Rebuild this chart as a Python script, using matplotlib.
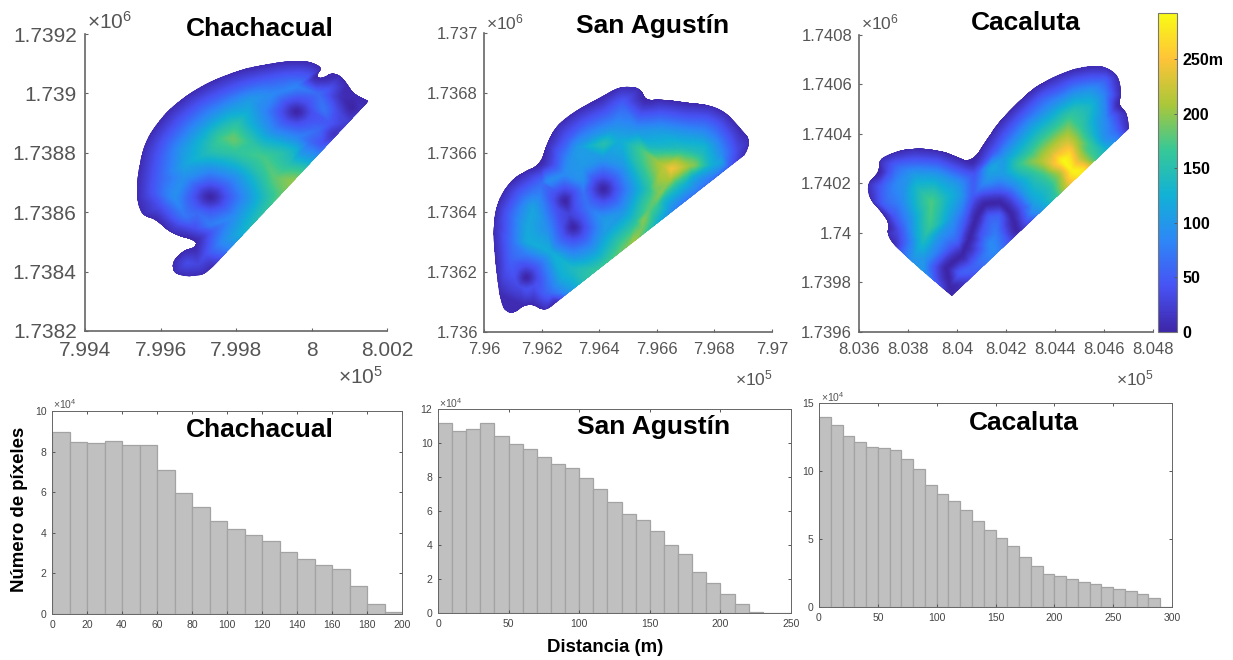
import numpy as np
import matplotlib
matplotlib.use('Agg')
import matplotlib.pyplot as plt
from matplotlib.colors import LinearSegmentedColormap
from matplotlib.patches import PathPatch
from matplotlib.path import Path
from matplotlib.tri import Triangulation, CubicTriInterpolator, LinearTriInterpolator

plt.rcParams['font.family'] = ['Liberation Sans', 'DejaVu Sans']
plt.rcParams['mathtext.default'] = 'regular'

W, H = 1233, 660

# histogram counts per 10 m bin, in units of 1e4 pixels
cha_counts = [8.95, 8.45, 8.4, 8.5, 8.32, 8.33, 7.1, 5.95, 5.25, 4.6, 4.2, 3.9, 3.6, 3.07, 2.7, 2.4, 2.2, 1.4, 0.5, 0.08]
san_counts = [11.2, 10.7, 10.8, 11.15, 10.4, 9.95, 9.65, 9.15, 8.75, 8.55, 7.95, 7.3, 6.55, 5.8, 5.45, 4.85, 4.0, 3.45,
              2.4, 1.75, 1.1, 0.55, 0.05, 0.02, 0.01]
cac_counts = [14.0, 13.35, 12.6, 12.15, 11.8, 11.7, 11.55, 10.85, 10.15, 9.0, 8.3, 7.8, 7.15, 6.3, 5.65, 5.05, 4.45, 3.7,
              3.05, 2.4, 2.25, 2.05, 1.85, 1.7, 1.5, 1.35, 1.15, 0.95, 0.65, 0.03]

# map outlines, metres east / north of the lower left axes corner
cha_outline = [(751, 773), (716, 790), (694, 830), (676, 863), (650, 869), (636, 852), (610, 855), (630, 886), (597, 908),
               (535, 910), (473, 897), (411, 880), (340, 846), (270, 796), (217, 740), (172, 666), (150, 604), (139, 520),
               (137, 442), (150, 391), (186, 380), (225, 329), (296, 307), (292, 279), (261, 273), (230, 234), (234, 194),
               (270, 183), (314, 189), (340, 217)]
san_outline = [(905, 592), (931, 640), (890, 681), (844, 732), (786, 760), (705, 767), (612, 780), (560, 773), (542, 819),
               (473, 823), (403, 782), (322, 743), (253, 693), (218, 631), (200, 564), (137, 536), (79, 491), (44, 430),
               (30, 352), (38, 240), (53, 128), (67, 78), (96, 59), (137, 89), (172, 93), (212, 69), (253, 100)]
cac_outline = [(1102, 822), (1098, 883), (1057, 917), (1071, 964), (1057, 1038), (1010, 1072), (949, 1076), (874, 1062),
               (792, 1031), (711, 984), (629, 910), (561, 836), (514, 768), (463, 685), (398, 708), (317, 737), (223, 744),
               (141, 728), (80, 697), (87, 647), (31, 600), (45, 532), (99, 479), (126, 425), (113, 398), (140, 350), (378, 144)]

# distance samples: east, north, metres to nearest feature
cha_samples = [
    (390, 285, 90), (440, 352, 140), (490, 420, 165), (530, 474, 190), (555, 507, 200), (580, 541, 165), (610, 582, 105),
    (640, 622, 60), (665, 656, 25), (700, 704, 25), (730, 745, 12),
    (332, 453, 0), (382, 453, 50), (367, 488, 50), (332, 503, 50), (297, 488, 50), (282, 453, 50), (297, 418, 50),
    (332, 403, 50), (367, 418, 50), (427, 453, 95), (399, 520, 95), (332, 548, 95), (265, 520, 95), (237, 453, 92),
    (265, 386, 70), (332, 358, 75), (399, 386, 95), (482, 453, 150), (438, 559, 150), (332, 603, 148), (261, 559, 110),
    (561, 740, 0), (601, 740, 40), (589, 768, 40), (561, 780, 40), (533, 768, 40), (521, 740, 40), (533, 712, 40),
    (561, 700, 40), (589, 712, 40), (634, 745, 70), (621, 800, 62), (561, 825, 82), (501, 800, 85), (476, 740, 85),
    (501, 680, 85), (561, 655, 85), (621, 680, 60), (431, 740, 120), (470, 648, 130), (561, 610, 125),
    (659, 661, 15), (630, 630, 45), (707, 751, 0), (670, 740, 35), (680, 790, 10), (650, 820, 40), (690, 700, 25),
    (650, 700, 45), (600, 640, 60), (570, 600, 105), (540, 560, 155), (500, 520, 180), (470, 520, 155), (400, 600, 160),
    (360, 650, 170), (300, 640, 125), (402, 698, 155), (380, 720, 130), (440, 700, 125), (393, 650, 185), (331, 633, 150),
    (446, 633, 157), (473, 588, 172), (189, 520, 50), (198, 589, 50), (214, 641, 50), (257, 710, 50), (305, 761, 50),
    (365, 801, 50), (426, 832, 50), (483, 848, 50), (535, 860, 50), (592, 858, 45), (246, 575, 95), (257, 616, 100),
    (297, 680, 100), (340, 726, 100), (390, 760, 100), (440, 785, 100), (270, 230, 35), (300, 225, 30), (320, 260, 40),
    (360, 300, 85), (290, 345, 38), (240, 350, 25), (340, 340, 55), (300, 400, 62), (200, 420, 40), (180, 470, 45)]
cha_cut = [(751, 773, 5), (340, 217, 8)]

san_samples = [
    (300, 135, 100), (350, 173, 150), (400, 211, 165), (450, 249, 175), (500, 286, 195), (519, 301, 205), (554, 327, 175),
    (606, 367, 125), (658, 406, 85), (705, 441, 70), (751, 476, 70), (809, 520, 65), (855, 555, 50),
    (652, 547, 245), (716, 558, 200), (763, 598, 140), (595, 486, 190), (577, 419, 180), (554, 374, 195), (612, 464, 195),
    (647, 508, 205), (670, 491, 150), (624, 441, 140), (600, 419, 165), (695, 494, 130), (728, 519, 120), (730, 558, 195),
    (768, 620, 130), (473, 642, 120), (577, 620, 140), (693, 620, 140), (620, 560, 215), (640, 500, 200),
    (415, 480, 0), (465, 480, 50), (450, 515, 50), (415, 530, 50), (380, 515, 50), (365, 480, 50), (380, 445, 50),
    (415, 430, 50), (450, 445, 50), (515, 480, 100), (486, 551, 100), (415, 580, 100), (344, 551, 100), (486, 409, 100),
    (415, 380, 100), (348, 460, 67), (363, 416, 70), (565, 480, 150), (521, 586, 150), (415, 630, 150), (521, 374, 150),
    (415, 330, 106), (605, 480, 190), (549, 614, 170), (549, 346, 190),
    (282, 441, 0), (282, 481, 40), (242, 441, 40), (254, 469, 40), (310, 469, 40), (254, 413, 40), (310, 413, 35),
    (296, 396, 28),
    (311, 352, 0), (351, 352, 40), (311, 312, 40), (271, 352, 40), (283, 324, 40), (339, 324, 40), (339, 380, 40),
    (401, 352, 90), (311, 262, 90), (221, 352, 90), (375, 288, 90), (247, 288, 90), (192, 441, 90), (218, 505, 88),
    (282, 531, 90), (346, 505, 90), (311, 212, 140), (410, 253, 140), (282, 581, 80), (240, 560, 40), (170, 420, 110),
    (148, 352, 115), (100, 352, 70), (65, 352, 35),
    (148, 184, 0), (188, 184, 40), (148, 224, 40), (108, 184, 40), (148, 144, 40), (176, 212, 40), (120, 212, 40),
    (120, 156, 35), (176, 156, 40), (228, 184, 80), (148, 264, 80), (68, 184, 30), (205, 240, 80), (91, 240, 53),
    (205, 130, 50), (268, 184, 120), (148, 304, 118), (233, 269, 120), (230, 130, 60), (100, 300, 70), (80, 400, 47),
    (120, 470, 46), (170, 480, 65), (200, 500, 64),
    (290, 650, 50), (350, 700, 50), (425, 735, 50), (480, 770, 50), (545, 730, 45), (612, 730, 50), (705, 717, 50),
    (775, 712, 50), (815, 690, 50), (850, 645, 50), (320, 620, 99), (385, 660, 100), (450, 680, 100), (530, 680, 95),
    (612, 680, 100), (705, 667, 100), (760, 665, 95), (800, 630, 100), (830, 600, 85), (880, 610, 35), (825, 570, 110),
    (790, 560, 125), (300, 580, 96)]
san_cut = [(905, 592, 10), (253, 100, 8)]

cac_samples = [
    (440, 202, 20), (481, 240, 50), (563, 317, 85), (617, 368, 40), (658, 406, 8), (699, 444, 40), (751, 493, 105),
    (806, 545, 160), (847, 583, 220), (901, 633, 280), (928, 659, 270), (969, 697, 170), (1010, 736, 130), (1057, 780, 80),
    (181, 314, 65), (220, 281, 95), (262, 244, 100), (300, 211, 70), (330, 185, 40), (358, 162, 12),
    (371, 182, 2), (364, 222, 0), (357, 263, 0), (388, 287, 0), (419, 310, 0), (436, 347, 0), (453, 384, 0), (466, 425, 0),
    (480, 465, 0), (497, 492, 0), (514, 519, 0), (545, 523, 0), (575, 526, 0), (600, 505, 0), (622, 479, 0), (633, 445, 0),
    (643, 411, 0),
    (296, 526, 175), (235, 586, 135), (357, 546, 135), (289, 425, 165), (262, 371, 140), (222, 303, 100), (181, 586, 95),
    (412, 586, 100), (520, 613, 95), (588, 640, 105), (534, 667, 110),
    (223, 694, 50), (145, 680, 50), (320, 690, 48), (398, 660, 48), (470, 640, 45), (125, 650, 45), (90, 590, 50),
    (95, 520, 50), (145, 465, 45), (165, 410, 40), (223, 644, 100), (320, 640, 100), (400, 610, 95), (150, 600, 85),
    (170, 530, 85), (195, 445, 80), (200, 370, 70),
    (310, 215, 50), (300, 265, 55), (410, 240, 50), (380, 350, 50), (465, 270, 55), (405, 365, 50), (500, 400, 45),
    (430, 445, 50), (530, 470, 50), (465, 550, 50), (575, 580, 55), (575, 475, 50), (665, 510, 50),
    (270, 300, 100), (330, 400, 105), (380, 460, 100), (420, 560, 100), (530, 360, 85), (560, 400, 75), (534, 330, 85),
    (575, 630, 100), (640, 600, 100), (710, 530, 110), (700, 480, 80), (680, 445, 40), (690, 510, 70), (740, 530, 120),
    (780, 580, 150), (820, 640, 210), (760, 640, 175),
    (1010, 1022, 50), (949, 1026, 50), (874, 1012, 50), (820, 985, 50), (745, 950, 50), (665, 875, 50), (600, 800, 50),
    (555, 735, 50), (510, 690, 40), (945, 976, 100), (880, 962, 100), (830, 935, 100), (775, 900, 100), (700, 840, 100),
    (640, 770, 100), (590, 710, 100), (880, 900, 150), (860, 880, 160), (790, 840, 150), (730, 790, 150), (680, 730, 150),
    (656, 681, 165), (1050, 880, 40), (1050, 820, 60), (1005, 960, 80), (950, 920, 130), (1010, 860, 85), (980, 850, 105),
    (960, 800, 130), (1000, 780, 100), (950, 760, 160), (905, 830, 165), (880, 770, 215), (850, 770, 230), (860, 720, 270),
    (833, 694, 290), (867, 654, 285), (900, 700, 230), (930, 740, 175), (800, 680, 250), (780, 730, 220), (751, 694, 215),
    (700, 690, 190), (720, 640, 160)]
cac_cut = [(1102, 822, 10), (378, 144, 5)]

# axis ranges and tick labels
cha_x0, cha_y0 = 799400, 1738200
san_x0, san_y0 = 796000, 1736000
cac_x0, cac_y0 = 803600, 1739600
cha_xticks = ['7.994', '7.996', '7.998', '8', '8.002']
cha_yticks = ['1.7382', '1.7384', '1.7386', '1.7388', '1.739', '1.7392']
san_xticks = ['7.96', '7.962', '7.964', '7.966', '7.968', '7.97']
san_yticks = ['1.736', '1.7362', '1.7364', '1.7366', '1.7368', '1.737']
cac_xticks = ['8.036', '8.038', '8.04', '8.042', '8.044', '8.046', '8.048']
cac_yticks = ['1.7396', '1.7398', '1.74', '1.7402', '1.7404', '1.7406', '1.7408']

parula = LinearSegmentedColormap.from_list('parula', [
    (0.2422, 0.1504, 0.6603), (0.2810, 0.3228, 0.9579), (0.1786, 0.5289, 0.9682), (0.0689, 0.6948, 0.8394),
    (0.2161, 0.7843, 0.5923), (0.6720, 0.7793, 0.2227), (0.9970, 0.7659, 0.2199), (0.9769, 0.9839, 0.0805)])
VMAX = 292

fig = plt.figure(figsize=(W / 100, H / 100), dpi=100)


def px_axes(left, top, right, bottom):
    return fig.add_axes([left / W, 1 - bottom / H, (right - left) / W, (bottom - top) / H])


def px_text(x, y, s, **kw):
    kw.setdefault('va', 'center')
    fig.text(x / W, 1 - y / H, s, **kw)


def outline_path(outline, x0, y0):
    # rounded shoreline, straight cut between the last and first vertex
    p = np.array(outline, dtype=float) + [x0, y0]
    verts = [p[0]]
    codes = [Path.MOVETO]
    for i in range(1, len(p) - 1):
        verts += [p[i], (p[i] + p[i + 1]) / 2]
        codes += [Path.CURVE3, Path.CURVE3]
    verts += [p[-1], p[0]]
    codes += [Path.LINETO, Path.CLOSEPOLY]
    return Path(np.array(verts), codes)


def draw_map(box, outline, samples, cut, x0, y0, xspan, yspan, xlabels, ylabels, size, ypad):
    ax = px_axes(*box)
    pts = [(x, y, 6) for x, y in outline[1:-1]] + samples + cut
    arr = np.array(pts, dtype=float)
    tri = Triangulation(x0 + arr[:, 0], y0 + arr[:, 1])
    smooth = CubicTriInterpolator(tri, arr[:, 2], kind='geom')
    sharp = LinearTriInterpolator(tri, arr[:, 2])
    gx, gy = np.meshgrid(np.linspace(x0, x0 + xspan, 500), np.linspace(y0, y0 + yspan, 500))
    # half and half keeps the ridges without the cubic overshoot
    field = np.ma.clip(0.5 * smooth(gx, gy) + 0.5 * sharp(gx, gy), 0, VMAX)
    mesh = ax.pcolormesh(gx, gy, field, shading='gouraud', cmap=parula, vmin=0, vmax=VMAX)
    clip = PathPatch(outline_path(outline, x0, y0), transform=ax.transData, fc='none', ec='none')
    ax.add_patch(clip)
    mesh.set_clip_path(clip)
    ax.set_xlim(x0, x0 + xspan)
    ax.set_ylim(y0, y0 + yspan)
    ax.set_xticks(x0 + np.arange(len(xlabels)) * 200, xlabels)
    ax.set_yticks(y0 + np.arange(len(ylabels)) * 200, ylabels)
    ax.spines[['top', 'right']].set_visible(False)
    ax.spines[['left', 'bottom']].set_color('#666666')
    ax.spines[['left', 'bottom']].set_linewidth(1.2)
    ax.tick_params(axis='x', direction='in', length=2.5, color='#666666', labelcolor='#555555', labelsize=size, pad=7)
    ax.tick_params(axis='y', direction='in', length=2.5, color='#666666', labelcolor='#555555', labelsize=size, pad=ypad)
    return mesh


def draw_hist(box, counts, xmax, xstep, ymax, ystep):
    ax = px_axes(*box)
    edges = np.arange(len(counts)) * 10
    ax.bar(edges, counts, width=10, align='edge', color='#c0c0c0', edgecolor='#a3a3a3', linewidth=0.9)
    ax.set_xlim(0, xmax)
    ax.set_ylim(0, ymax)
    ax.set_xticks(np.arange(0, xmax + 1, xstep))
    ax.set_yticks(np.arange(0, ymax + 1, ystep))
    ax.tick_params(direction='in', top=True, right=True, length=2, width=0.7, color='#555555',
                   labelcolor='#444444', labelsize=7.5, pad=4)
    for s in ax.spines.values():
        s.set_color('#666666')
        s.set_linewidth(0.7)


mesh = draw_map((85, 34, 387, 331), cha_outline, cha_samples, cha_cut, cha_x0, cha_y0, 800, 1000, cha_xticks, cha_yticks, 15, 6)
draw_map((484, 33, 772, 332), san_outline, san_samples, san_cut, san_x0, san_y0, 1000, 1000, san_xticks, san_yticks, 12, 4.5)
draw_map((859, 35, 1153, 332), cac_outline, cac_samples, cac_cut, cac_x0, cac_y0, 1200, 1200, cac_xticks, cac_yticks, 12, 5)

cax = px_axes(1158, 13, 1177, 332)
cbar = fig.colorbar(mesh, cax=cax)
cbar.set_ticks([0, 50, 100, 150, 200, 250], labels=['0', '50', '100', '150', '200', '250m'])
cbar.ax.tick_params(direction='in', length=2, width=0.6, color='#555555', labelsize=11.5, pad=4)
for lab in cbar.ax.get_yticklabels():
    lab.set_fontweight('bold')
cbar.outline.set_edgecolor('#777777')

draw_hist((52, 411, 402, 614), cha_counts, 200, 20, 10, 2)
draw_hist((438, 409, 791, 613), san_counts, 250, 50, 12, 2)
draw_hist((819, 403, 1172, 607), cac_counts, 300, 50, 15, 5)

# titles
title_kw = dict(ha='center', fontsize=19, fontweight='bold', color='black')
px_text(260, 29, 'Chachacual', **title_kw)
px_text(653, 26, 'San Agustín', **title_kw)
px_text(1026, 23, 'Cacaluta', **title_kw)
px_text(260, 430, 'Chachacual', **title_kw)
px_text(654, 427, 'San Agustín', **title_kw)
px_text(1024, 423, 'Cacaluta', **title_kw)

# axis exponents
grey = dict(color='#555555', ha='left')
px_text(87, 22, r'$\times10^{6}$', fontsize=15, **grey)
px_text(486, 22, r'$\times10^{6}$', fontsize=12.5, **grey)
px_text(861, 22, r'$\times10^{6}$', fontsize=12.5, **grey)
px_text(338, 377, r'$\times10^{5}$', fontsize=15, **grey)
px_text(735, 378, r'$\times10^{5}$', fontsize=12.5, **grey)
px_text(1116, 378, r'$\times10^{5}$', fontsize=12.5, **grey)
px_text(53, 404, r'$\times10^{4}$', fontsize=7.5, **grey)
px_text(439, 403, r'$\times10^{4}$', fontsize=7.5, **grey)
px_text(821, 397, r'$\times10^{4}$', fontsize=7.5, **grey)

px_text(20, 509, 'Número de píxeles', rotation=90, ha='center', fontsize=13.4, fontweight='bold')
px_text(605, 647, 'Distancia (m)', ha='center', fontsize=13.4, fontweight='bold')

fig.savefig('out.png', dpi=100)
